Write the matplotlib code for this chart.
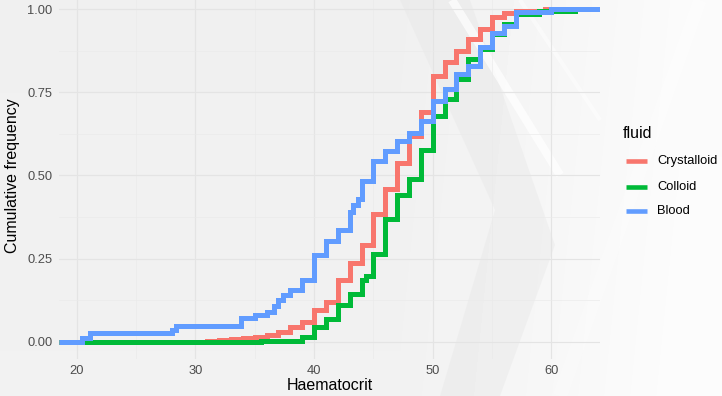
import numpy as np
import matplotlib
matplotlib.use("Agg")
import matplotlib.pyplot as plt
from matplotlib.lines import Line2D
from matplotlib.patches import Polygon

plt.rcParams['font.family'] = ['Liberation Sans', 'DejaVu Sans']

# ---------------- data ----------------
categories = ["Crystalloid", "Colloid", "Blood"]
colors = ["#F8766D", "#00BA38", "#619CFF"]

crystalloid_x = [31, 32, 33, 34, 35, 36, 37, 38, 39, 40, 41, 42, 43, 44, 45, 46,
                 47, 48, 49, 50, 51, 52, 53, 54, 55, 56, 57, 59.5]
crystalloid_y = [0.004, 0.006, 0.009, 0.012, 0.016, 0.02, 0.031, 0.046, 0.061,
                 0.096, 0.12, 0.187, 0.237, 0.292, 0.385, 0.46, 0.537, 0.62,
                 0.69, 0.8, 0.84, 0.875, 0.91, 0.94, 0.975, 0.988, 0.994, 1.0]

colloid_x = [35.5, 39, 40, 41, 42, 43, 44, 44.4, 45, 46, 47, 48, 49, 50, 51, 52,
             53, 54, 55, 56, 57, 59, 62]
colloid_y = [0.004, 0.016, 0.046, 0.07, 0.111, 0.145, 0.187, 0.197, 0.265, 0.37,
             0.44, 0.49, 0.578, 0.68, 0.73, 0.79, 0.85, 0.88, 0.925, 0.955,
             0.985, 0.995, 1.0]

blood_x = [20.4, 21.1, 28.0, 28.4, 33.8, 35, 36, 36.6, 37, 37.4, 38, 39, 40, 41, 42,
           43, 43.3, 43.7, 44, 45, 46, 47, 48, 49, 50, 51, 52, 53, 54, 55, 56, 57, 60]
blood_y = [0.013, 0.026, 0.037, 0.048, 0.071, 0.081, 0.091, 0.108, 0.126, 0.142,
           0.157, 0.187, 0.262, 0.302, 0.337, 0.39, 0.41, 0.43, 0.483, 0.545,
           0.575, 0.605, 0.628, 0.665, 0.724, 0.76, 0.805, 0.83, 0.885, 0.927,
           0.95, 0.99, 1.0]

x_ticks = [20, 30, 40, 50, 60]
y_ticks = [0.0, 0.25, 0.5, 0.75, 1.0]
x_title = "Haematocrit"
y_title = "Cumulative frequency"
legend_title = "fluid"

series_x = [crystalloid_x, colloid_x, blood_x]
series_y = [crystalloid_y, colloid_y, blood_y]

# ---------------- figure ----------------
W, H = 722, 396
fig = plt.figure(figsize=(W / 100, H / 100), dpi=100)

# decorative background
yy, xx = np.mgrid[0:H, 0:W]
bg = 0.940 + 0.042 * np.clip((xx - 400) / 280.0, 0, 1) + 0.006 * (yy / H)
bg = np.clip(bg, 0, 1)
bgax = fig.add_axes([0, 0, 1, 1], zorder=-10)
bgax.imshow(bg, cmap='gray', vmin=0, vmax=1, aspect='auto',
            extent=[0, W, H, 0], interpolation='bilinear')
bgax.set_xlim(0, W)
bgax.set_ylim(H, 0)
bgax.axis('off')
# darker chevron
bgax.add_patch(Polygon([(400, 0), (470, 0), (555, 245), (500, 396), (440, 396), (495, 210)],
                       closed=True, facecolor='#e4e4e4', edgecolor='none', alpha=0.35))
# white diagonal streaks
bgax.plot([452, 560], [0, 175], color='white', lw=6, alpha=0.7, solid_capstyle='butt')
bgax.plot([520, 600], [0, 120], color='white', lw=3, alpha=0.45, solid_capstyle='butt')
bgax.plot([560, 700], [396, 0], color='white', lw=10, alpha=0.25, solid_capstyle='butt')

left, right = 59, 600
bottom, top = 358.6, -7.6
ax = fig.add_axes([left / W, 1 - bottom / H, (right - left) / W, (bottom - top) / H])
ax.set_facecolor('none')
for s in ax.spines.values():
    s.set_visible(False)

xlo, xhi = 18.5, 64.1
ax.set_xlim(xlo, xhi)
ax.set_ylim(-0.05, 1.05)

ax.set_xticks(x_ticks)
ax.set_yticks(y_ticks)
ax.set_xticklabels([str(v) for v in x_ticks])
ax.set_yticklabels([f"{v:.2f}" for v in y_ticks])
ax.set_xticks([25, 35, 45, 55], minor=True)
ax.set_yticks([0.125, 0.375, 0.625, 0.875], minor=True)
ax.tick_params(which='both', length=0)
ax.tick_params(axis='both', which='major', labelsize=9.3, labelcolor='#4d4d4d', pad=4.6)
ax.grid(True, which='major', color='#e4e4e4', lw=0.85)
ax.grid(True, which='minor', color='#eaeaea', lw=0.45)
ax.set_axisbelow(True)

for xs, ys, c in zip(series_x, series_y, colors):
    px = [xlo] + list(xs) + [xhi]
    py = [0.0] + list(ys) + [list(ys)[-1]]
    ax.step(px, py, where='post', color=c, lw=3.6,
            solid_joinstyle='miter', solid_capstyle='butt', zorder=3)

fig.text((left + right) / 2 / W, 1 - 385 / H, x_title, ha='center', va='center',
         fontsize=11.5, color='black')
fig.text(13 / W, 1 - 176 / H, y_title, ha='center', va='center', rotation=90,
         fontsize=11.5, color='black')

# legend
fig.text(623 / W, 1 - 134 / H, legend_title, ha='left', va='center', fontsize=11.5)
key_y = [161, 186.5, 211]
for lab, c, ky in zip(categories, colors, key_y):
    fig.add_artist(Line2D([626 / W, 647 / W], [1 - ky / H, 1 - ky / H],
                          color=c, lw=3.3, solid_capstyle='butt',
                          transform=fig.transFigure))
    fig.text(657 / W, 1 - ky / H, lab, ha='left', va='center', fontsize=9.3)

fig.savefig("out.png", dpi=100)
